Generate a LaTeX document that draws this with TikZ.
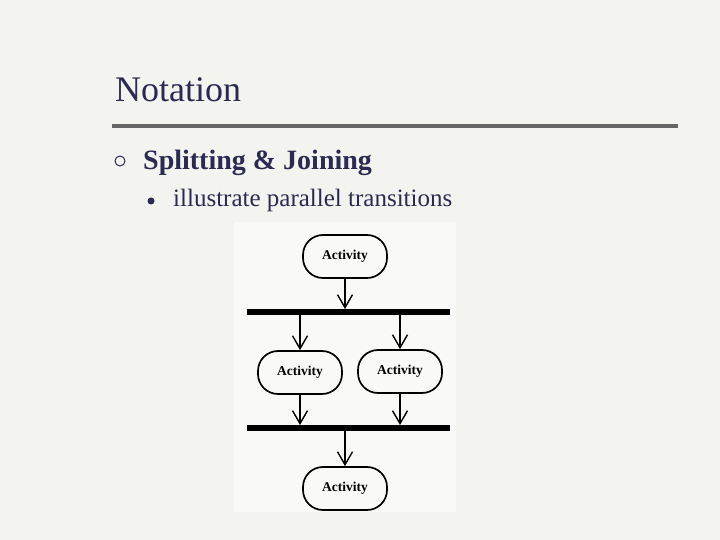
\documentclass[tikz,border=0pt]{standalone}
\usepackage{fontspec}
\setmainfont{Liberation Serif}
\usetikzlibrary{arrows.meta}
\definecolor{slidebg}{RGB}{243,243,239}
\definecolor{slidetext}{RGB}{43,42,82}
\definecolor{sliderule}{RGB}{102,102,102}
\definecolor{figbg}{RGB}{249,249,247}

\begin{document}
\begin{tikzpicture}[x=1pt, y=-1pt, every node/.style={inner sep=0pt},
	activity/.style={draw, line width=1.7pt, rounded corners=20pt, minimum width=84pt, minimum height=43pt, font=\fontsize{13.5}{15}\selectfont\bfseries},
	syncbar/.style={fill=black, minimum width=203pt, minimum height=5.5pt},
	flow/.style={line width=1.4pt, -{Straight Barb[length=13pt, width=15pt, line width=1.4pt]}}]
	\useasboundingbox (0,0) rectangle (720,540);
	\fill[slidebg] (0,0) rectangle (720,540);
	% slide heading
	\node[anchor=base west, text=slidetext, font=\fontsize{36}{40}\selectfont] (title) at (115,102) {Notation};
	\draw[sliderule, line width=4pt] (112,126) -- (678,126);
	\node[draw=slidetext, line width=1pt, circle, minimum size=10pt] (dot1) at (120,161) {};
	\node[anchor=base west, text=slidetext, font=\fontsize{28}{32}\selectfont\bfseries] (head) at (143,169.5) {Splitting \& Joining};
	\node[fill=slidetext, circle, minimum size=7pt] (dot2) at (151,201) {};
	\node[anchor=base west, text=slidetext, font=\fontsize{25}{29}\selectfont] (sub) at (173,206.5) {illustrate parallel transitions};
	% activity diagram
	\fill[figbg] (234,222) rectangle (456,512);
	\node[activity] (act1) at (345,256.5) {Activity};
	\node[syncbar] (bar1) at (348.5,312) {};
	\node[activity] (act2) at (300,372.5) {Activity};
	\node[activity] (act3) at (400,371.5) {Activity};
	\node[syncbar] (bar2) at (348.5,428) {};
	\node[activity] (act4) at (345,488.5) {Activity};
	\draw[flow] (act1.south) -- (act1.south |- bar1.north);
	\draw[flow] (bar1.south -| act2) -- (act2.north);
	\draw[flow] (bar1.south -| act3) -- (act3.north);
	\draw[flow] (act2.south) -- (act2.south |- bar2.north);
	\draw[flow] (act3.south) -- (act3.south |- bar2.north);
	\draw[flow] (bar2.south -| act4) -- (act4.north);
\end{tikzpicture}
\end{document}
